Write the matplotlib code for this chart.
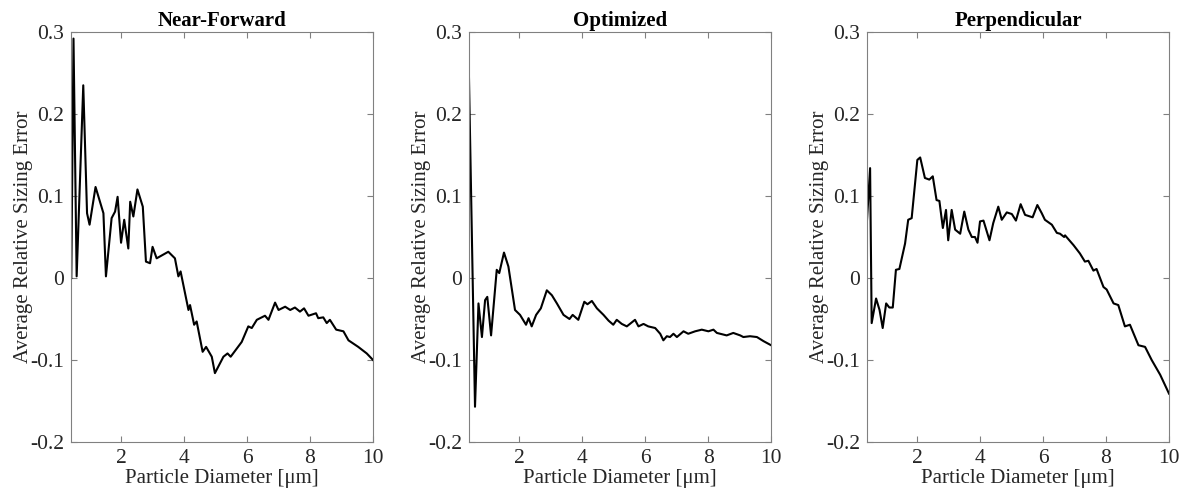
import matplotlib
matplotlib.use("Agg")
import matplotlib.pyplot as plt

# Near-Forward
nf_x = [0.42, 0.49, 0.59, 0.80, 0.92, 1.00, 1.19, 1.44, 1.52, 1.70, 1.81, 1.89, 2.00, 2.10,
        2.23, 2.29, 2.39, 2.52, 2.69, 2.79, 2.92, 3.00, 3.13, 3.50, 3.71, 3.82, 3.89, 4.14,
        4.19, 4.32, 4.40, 4.59, 4.70, 4.88, 4.98, 5.25, 5.38, 5.48, 5.83, 6.04, 6.15, 6.31,
        6.57, 6.68, 6.89, 7.00, 7.21, 7.37, 7.52, 7.68, 7.81, 7.95, 8.19, 8.26, 8.42, 8.53,
        8.63, 8.83, 9.06, 9.22, 9.53, 9.80, 10.0]
nf_y = [0.0, 0.292, 0.002, 0.235, 0.079, 0.065, 0.111, 0.079, 0.002, 0.073, 0.081, 0.099,
        0.043, 0.071, 0.036, 0.093, 0.075, 0.108, 0.087, 0.020, 0.018, 0.038, 0.024, 0.032,
        0.024, 0.002, 0.008, -0.039, -0.033, -0.057, -0.053, -0.090, -0.084, -0.096, -0.116,
        -0.096, -0.092, -0.096, -0.078, -0.059, -0.061, -0.051, -0.046, -0.051, -0.030,
        -0.039, -0.035, -0.039, -0.036, -0.041, -0.037, -0.046, -0.043, -0.049, -0.048,
        -0.055, -0.051, -0.063, -0.065, -0.076, -0.084, -0.092, -0.100]

# Optimized
op_x = [0.40, 0.60, 0.71, 0.82, 0.92, 0.99, 1.11, 1.29, 1.37, 1.52, 1.66, 1.87, 2.03, 2.22,
        2.30, 2.40, 2.54, 2.69, 2.88, 3.04, 3.20, 3.41, 3.60, 3.70, 3.88, 4.07, 4.17, 4.31,
        4.47, 4.68, 4.84, 4.99, 5.10, 5.26, 5.42, 5.68, 5.79, 5.95, 6.10, 6.32, 6.48, 6.58,
        6.69, 6.79, 6.90, 7.01, 7.22, 7.37, 7.59, 7.80, 8.01, 8.17, 8.28, 8.59, 8.80, 9.02,
        9.12, 9.33, 9.55, 9.76, 10.0]
op_y = [0.262, -0.157, -0.031, -0.072, -0.027, -0.023, -0.070, 0.010, 0.006, 0.031, 0.014,
        -0.039, -0.045, -0.057, -0.049, -0.059, -0.045, -0.037, -0.015, -0.021, -0.031,
        -0.045, -0.050, -0.045, -0.051, -0.029, -0.032, -0.028, -0.037, -0.045, -0.052,
        -0.057, -0.051, -0.056, -0.059, -0.051, -0.059, -0.056, -0.059, -0.061, -0.068,
        -0.076, -0.071, -0.072, -0.068, -0.072, -0.065, -0.068, -0.065, -0.063, -0.065,
        -0.063, -0.067, -0.070, -0.067, -0.070, -0.072, -0.071, -0.072, -0.077, -0.082]

# Perpendicular
pp_x = [0.40, 0.51, 0.56, 0.70, 0.81, 0.91, 1.02, 1.12, 1.23, 1.33, 1.44, 1.62, 1.72, 1.83,
        2.01, 2.10, 2.25, 2.39, 2.50, 2.62, 2.71, 2.82, 2.92, 2.99, 3.10, 3.21, 3.37, 3.50,
        3.63, 3.74, 3.84, 3.92, 4.00, 4.11, 4.30, 4.42, 4.58, 4.69, 4.85, 5.01, 5.14, 5.29,
        5.43, 5.67, 5.82, 5.96, 6.06, 6.28, 6.44, 6.54, 6.67, 6.70, 6.97, 7.17, 7.33, 7.44,
        7.60, 7.70, 7.92, 8.02, 8.24, 8.39, 8.60, 8.76, 9.03, 9.24, 9.45, 9.72, 10.0]
pp_y = [0.063, 0.134, -0.055, -0.025, -0.039, -0.061, -0.031, -0.036, -0.036, 0.010, 0.011,
        0.042, 0.071, 0.073, 0.144, 0.147, 0.122, 0.120, 0.124, 0.095, 0.094, 0.061, 0.083,
        0.046, 0.083, 0.059, 0.054, 0.081, 0.059, 0.050, 0.050, 0.043, 0.069, 0.070, 0.046,
        0.067, 0.087, 0.071, 0.080, 0.078, 0.070, 0.090, 0.077, 0.074, 0.089, 0.079, 0.071,
        0.065, 0.055, 0.054, 0.050, 0.052, 0.040, 0.030, 0.020, 0.021, 0.009, 0.011, -0.011,
        -0.014, -0.031, -0.033, -0.059, -0.057, -0.082, -0.084, -0.100, -0.118, -0.141]

titles = ["Near-Forward", "Optimized", "Perpendicular"]
series = [(nf_x, nf_y), (op_x, op_y), (pp_x, pp_y)]
y_ticks = [-0.2, -0.1, 0, 0.1, 0.2, 0.3]
y_tick_labels = ["-0.2", "-0.1", "0", "0.1", "0.2", "0.3"]
x_ticks = [2, 4, 6, 8, 10]

plt.rcParams['font.family'] = ['Liberation Serif', 'DejaVu Serif']

fig = plt.figure(figsize=(11.85, 5), dpi=100)
lefts = [0.0599, 0.3958, 0.7316]

for i in range(3):
    ax = fig.add_axes([lefts[i], 0.116, 0.2549, 0.82])
    x, y = series[i]
    ax.plot(x, y, color='black', linewidth=1.5)
    ax.set_xlim(0.41, 10)
    ax.set_ylim(-0.2, 0.3)
    ax.set_xticks(x_ticks)
    ax.set_yticks(y_ticks)
    ax.set_yticklabels(y_tick_labels)
    ax.tick_params(direction='in', top=True, right=True, labelsize=15.5,
                   colors='#808080', labelcolor='#262626', length=4, pad=5)
    for s in ax.spines.values():
        s.set_color('#808080')
    ax.set_title(titles[i], fontsize=15, fontweight='bold', pad=4)
    ax.set_xlabel("Particle Diameter [μm]", fontsize=15, color='#262626', labelpad=1)
    ax.set_ylabel("Average Relative Sizing Error", fontsize=15, color='#262626', labelpad=-2)

fig.savefig("out.png", dpi=100)
